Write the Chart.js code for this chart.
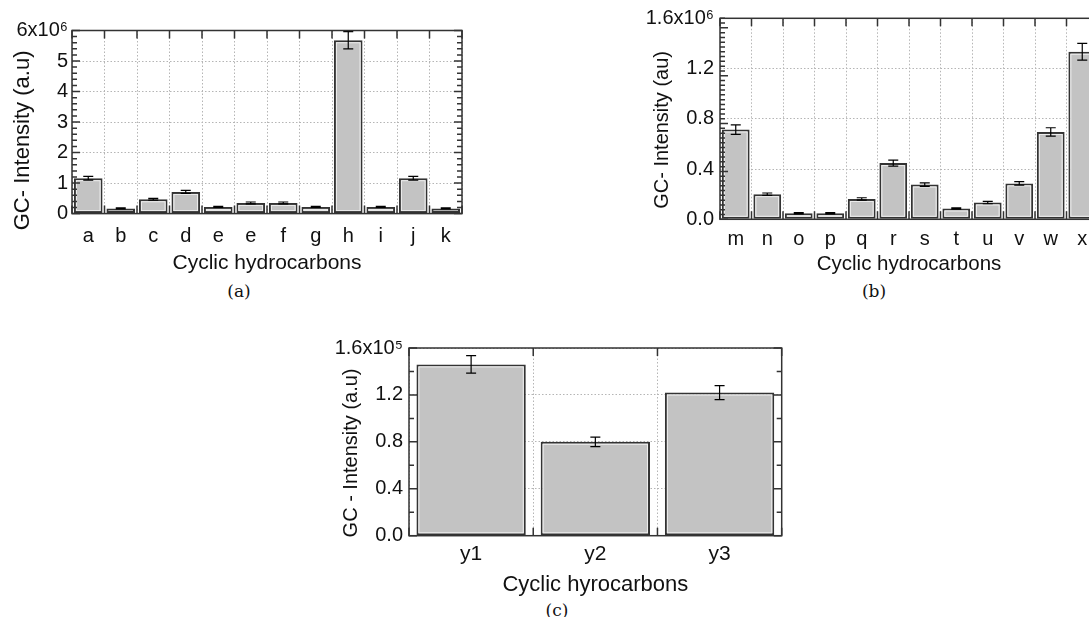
<!DOCTYPE html>
<html>
<head>
<meta charset="utf-8">
<script src="https://cdn.jsdelivr.net/npm/chart.js@4"></script>
<style>
  html, body { margin: 0; padding: 0; background: #fff; overflow: hidden; }
  body { width: 1089px; height: 617px; position: relative; }
  .box { position: absolute; }
  .cap { position: absolute; font-family: "DejaVu Serif", "Liberation Serif", serif; font-size: 17px; color: #111; transform: translate(-50%, -50%); }
</style>
</head>
<body>
<div class="box" style="left:0;top:0;width:480px;height:276px"><canvas id="graficoA"></canvas></div>
<div class="box" style="left:620px;top:0;width:490px;height:277px"><canvas id="graficoB"></canvas></div>
<div class="box" style="left:300px;top:330px;width:500px;height:268px"><canvas id="graficoC"></canvas></div>
<div class="cap" style="left:239px;top:291px">(a)</div>
<div class="cap" style="left:874px;top:291px">(b)</div>
<div class="cap" style="left:557px;top:610px">(c)</div>

<script>
// DATI - grafico (a)
const categorieA = ["a", "b", "c", "d", "e", "e", "f", "g", "h", "i", "j", "k"];
const valoriA = [1.16e6, 0.17e6, 0.47e6, 0.71e6, 0.22e6, 0.35e6, 0.35e6, 0.22e6, 5.68e6, 0.22e6, 1.16e6, 0.17e6];
const erroriA = [0.06e6, 0.02e6, 0.03e6, 0.05e6, 0.02e6, 0.03e6, 0.03e6, 0.02e6, 0.28e6, 0.02e6, 0.06e6, 0.02e6];
const tickA = ["0", "1", "2", "3", "4", "5", "6x10⁶"];

// DATI - grafico (b)
const categorieB = ["m", "n", "o", "p", "q", "r", "s", "t", "u", "v", "w", "x"];
const valoriB = [0.75e6, 0.21e6, 0.05e6, 0.05e6, 0.17e6, 0.47e6, 0.29e6, 0.09e6, 0.14e6, 0.30e6, 0.73e6, 1.40e6];
const erroriB = [0.04e6, 0.01e6, 0.005e6, 0.005e6, 0.01e6, 0.025e6, 0.015e6, 0.005e6, 0.01e6, 0.015e6, 0.035e6, 0.07e6];
const tickB = ["0.0", "0.4", "0.8", "1.2", "1.6x10⁶"];

// DATI - grafico (c)
const categorieC = ["y1", "y2", "y3"];
const valoriC = [1.46e5, 0.80e5, 1.22e5];
const erroriC = [0.075e5, 0.04e5, 0.06e5];
const tickC = ["0.0", "0.4", "0.8", "1.2", "1.6x10⁵"];

Chart.defaults.font.family = "'Liberation Sans', Arial, sans-serif";
Chart.defaults.color = "#111";

// cornice, tacche e barre di errore
const cornice = {
  id: "cornice",
  afterDatasetsDraw(chart) {
    const ctx = chart.ctx;
    const y = chart.scales.y;
    const ds = chart.data.datasets[0];
    const meta = chart.getDatasetMeta(0);
    ctx.save();
    // riflesso chiaro dentro le barre
    ctx.strokeStyle = "#ededed";
    ctx.lineWidth = 1;
    meta.data.forEach((bar) => {
      const h = bar.base - bar.y;
      const l = bar.x - bar.width / 2;
      if (h > 5) ctx.strokeRect(l + 2.5, bar.y + 2.5, bar.width - 5, h - 5);
    });
    // barre di errore
    ctx.strokeStyle = "#000";
    ctx.lineWidth = 1.2;
    meta.data.forEach((bar, i) => {
      const v = ds.data[i];
      const yt = y.getPixelForValue(v + ds.errori[i]);
      const yb = y.getPixelForValue(v - ds.errori[i]);
      ctx.beginPath();
      ctx.moveTo(bar.x, yt); ctx.lineTo(bar.x, yb);
      ctx.moveTo(bar.x - 5, yt); ctx.lineTo(bar.x + 5, yt);
      ctx.moveTo(bar.x - 5, yb); ctx.lineTo(bar.x + 5, yb);
      ctx.stroke();
    });
    ctx.restore();
  },
  afterDraw(chart, args, opts) {
    const ctx = chart.ctx;
    const { left, right, top, bottom } = chart.chartArea;
    const x = chart.scales.x, y = chart.scales.y;
    ctx.save();
    ctx.strokeStyle = "#333";
    ctx.lineWidth = 1.5;
    ctx.beginPath();
    // tacche asse y (sinistra e destra)
    const nMin = Math.round(y.max / opts.minore);
    for (let k = 0; k <= nMin; k++) {
      const v = k * opts.minore;
      const py = y.getPixelForValue(v);
      const r = v / opts.passo;
      const len = Math.abs(r - Math.round(r)) < 1e-6 ? 8 : 5;
      ctx.moveTo(left, py); ctx.lineTo(left + len, py);
      ctx.moveTo(right, py); ctx.lineTo(right - len, py);
    }
    // tacche asse x ai confini delle categorie
    const n = chart.data.labels.length;
    for (let i = 0; i <= n; i++) {
      const px = x.getPixelForValue(i - 0.5);
      ctx.moveTo(px, top); ctx.lineTo(px, top + 8);
      ctx.moveTo(px, bottom); ctx.lineTo(px, bottom - 8);
    }
    ctx.stroke();
    ctx.strokeRect(left, top, right - left, bottom - top);
    ctx.restore();
  },
};

const grafico = function (id, p) {
  const ctx = document.getElementById(id).getContext("2d");
  return new Chart(ctx, {
    type: "bar",
    data: {
      labels: p.categorie,
      datasets: [
        {
          data: p.valori,
          errori: p.errori,
          backgroundColor: "#c3c3c3",
          borderColor: "#333",
          borderWidth: 2,
          borderSkipped: false,
          barPercentage: 0.88,
          categoryPercentage: 1,
        },
      ],
    },
    options: {
      responsive: true,
      maintainAspectRatio: false,
      animation: false,
      layout: { padding: { top: p.sopra, right: p.destra, left: 0, bottom: 0 } },
      plugins: {
        legend: { display: false },
        tooltip: { enabled: false },
        cornice: { minore: p.minore, passo: p.passo },
      },
      scales: {
        x: {
          grid: { offset: true, color: "#b5b5b5", drawTicks: false },
          border: { display: false, dash: [1.5, 2] },
          ticks: { autoSkip: false, maxRotation: 0, padding: p.padX, font: { size: p.fontX } },
          title: { display: true, text: p.titoloX, font: { size: p.fontTitX }, padding: 0 },
          afterFit: (s) => { s.height = p.altezzaX; },
        },
        y: {
          min: 0,
          max: p.max,
          grid: { color: "#b5b5b5", drawTicks: false },
          border: { display: false, dash: [1.5, 2] },
          ticks: {
            stepSize: p.passo,
            includeBounds: false,
            padding: p.padY,
            font: { size: 20 },
            callback: (v, i) => p.tick[i],
          },
          title: { display: true, text: p.titoloY, font: { size: p.fontTitY }, padding: { top: p.padTitY, bottom: 0 } },
          afterFit: (s) => { s.width = p.larghezzaY; },
        },
      },
    },
    plugins: [cornice],
  });
};

grafico("graficoA", {
  categorie: categorieA, valori: valoriA, errori: erroriA, tick: tickA,
  max: 6e6, passo: 1e6, minore: 0.2e6,
  sopra: 30.5, destra: 18, larghezzaY: 72, altezzaX: 62.4,
  padX: 10.5, fontX: 20, padY: 4,
  titoloX: "Cyclic hydrocarbons", fontTitX: 21,
  titoloY: "GC- Intensity (a.u)      ", fontTitY: 22, padTitY: 9.8,
});

grafico("graficoB", {
  categorie: categorieB, valori: valoriB, errori: erroriB, tick: tickB,
  max: 1.68e6, passo: 0.4e6, minore: 0.04e6,
  sopra: 18.3, destra: 12, larghezzaY: 100, altezzaX: 57.7,
  padX: 8, fontX: 20, padY: 6,
  titoloX: "Cyclic hydrocarbons", fontTitX: 20.5,
  titoloY: "GC- Intensity (au)    ", fontTitY: 20, padTitY: 30.5,
});

grafico("graficoC", {
  categorie: categorieC, valori: valoriC, errori: erroriC, tick: tickC,
  max: 1.6e5, passo: 0.4e5, minore: 0.2e5,
  sopra: 12.3, destra: 18.3, larghezzaY: 109, altezzaX: 62.3,
  padX: 5.7, fontX: 21, padY: 6,
  titoloX: "Cyclic hyrocarbons", fontTitX: 22,
  titoloY: "GC - Intensity (a.u)    ", fontTitY: 20, padTitY: 39.5,
});
</script>
</body>
</html>
